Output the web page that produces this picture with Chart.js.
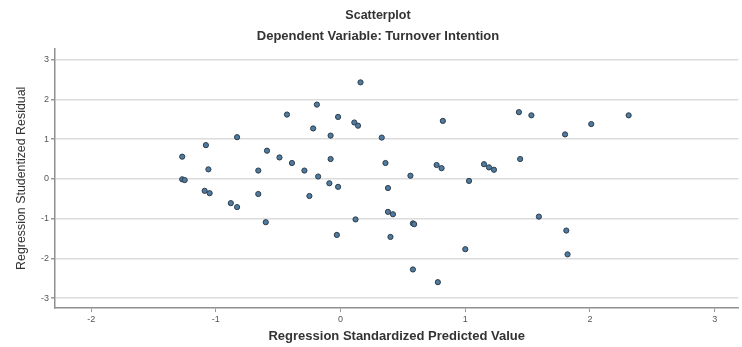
<!DOCTYPE html>
<html>
<head>
<meta charset="utf-8">
<script src="https://cdn.jsdelivr.net/npm/chart.js@4/dist/chart.umd.min.js"></script>
<style>
  html, body { margin: 0; padding: 0; background: #fff; }
  #wrap { width: 742px; height: 347px; }
</style>
</head>
<body>
<div id="wrap"><canvas id="chart"></canvas></div>
<script>
// Regression residual scatterplot (SPSS style)

// x: Regression Standardized Predicted Value
const PREDICTED = [
  -0.43, -0.83, -1.08, -1.27, -0.59, -0.49, -0.39, -1.06, -0.66, -1.27,
  -1.25, -1.09, -1.05, -0.66, -0.88, -0.83, -0.60, 0.16, -0.19, -0.02,
  -0.22, 0.11, 0.14, -0.08, 0.33, 0.82, -0.08, -0.29, 0.36, 0.77,
  0.81, 1.15, 1.19, 1.23, -0.18, 0.56, -0.09, -0.02, 1.03, 0.38,
  -0.25, 0.38, 0.42, 0.12, 0.58, 0.59, -0.03, 0.40, 1.00, 0.58,
  0.78, 1.43, 1.53, 2.01, 2.31, 1.80, 1.44, 1.59, 1.81, 1.82
];

// y: Regression Studentized Residual
const RESIDUAL = [
  1.62, 1.05, 0.85, 0.56, 0.71, 0.54, 0.40, 0.24, 0.21, -0.01,
  -0.03, -0.30, -0.36, -0.38, -0.61, -0.71, -1.09, 2.43, 1.87, 1.56,
  1.27, 1.42, 1.34, 1.09, 1.04, 1.46, 0.50, 0.21, 0.40, 0.35,
  0.27, 0.37, 0.29, 0.23, 0.06, 0.08, -0.11, -0.20, -0.05, -0.23,
  -0.43, -0.83, -0.89, -1.02, -1.12, -1.14, -1.41, -1.46, -1.77, -2.28,
  -2.60, 1.68, 1.60, 1.38, 1.60, 1.12, 0.50, -0.95, -1.30, -1.90
];

const X_TICKS = [-2, -1, 0, 1, 2, 3];
const Y_TICKS = [-3, -2, -1, 0, 1, 2, 3];

const FONT = "'Liberation Sans', Arial, sans-serif";

// pair the two arrays into {x, y} points for Chart.js
const points = PREDICTED.map((x, i) => ({ x, y: RESIDUAL[i] }));

new Chart(document.getElementById("chart"), {
  type: "scatter",
  data: {
    datasets: [{
      data: points,
      pointRadius: 2.6,
      pointHoverRadius: 2.6,
      backgroundColor: "#4f7ba0",
      borderColor: "#2e3d4c",
      borderWidth: 1,
    }],
  },
  options: {
    responsive: true,
    maintainAspectRatio: false,
    animation: false,
    layout: { padding: { left: 14, right: 0, top: 0, bottom: 0 } },
    plugins: {
      legend: { display: false },
      tooltip: { enabled: false },
      title: {
        display: true,
        text: "Scatterplot",
        color: "#333",
        font: { family: FONT, size: 12.5, weight: "bold" },
        padding: { top: 8, bottom: 3 },
      },
      subtitle: {
        display: true,
        text: "Dependent Variable: Turnover Intention",
        color: "#333",
        font: { family: FONT, size: 13, weight: "bold" },
        padding: { top: 3, bottom: 4 },
      },
    },
    scales: {
      x: {
        type: "linear",
        min: -2.29,
        max: 3.19,
        afterBuildTicks: s => { s.ticks = X_TICKS.map(v => ({ value: v })); },
        afterFit: s => { s.height = 39; },
        grid: { drawOnChartArea: false, drawTicks: true, tickLength: 4, color: "#999" },
        border: { color: "#8f8f8f", width: 1.5 },
        ticks: { color: "#555", font: { family: FONT, size: 9 }, padding: 2, maxRotation: 0 },
        title: {
          display: true,
          text: "Regression Standardized Predicted Value",
          color: "#333",
          font: { family: FONT, size: 13, weight: "bold" },
          padding: { top: 0, bottom: 3 },
        },
      },
      y: {
        type: "linear",
        min: -3.25,
        max: 3.28,
        afterBuildTicks: s => { s.ticks = Y_TICKS.map(v => ({ value: v })); },
        afterFit: s => { s.width = 41; },
        grid: { color: "#dcdcdc", lineWidth: 1.5, drawTicks: true, tickLength: 4, tickColor: "#999" },
        border: { color: "#8f8f8f", width: 1.5 },
        ticks: { color: "#555", font: { family: FONT, size: 9 }, padding: 2 },
        title: {
          display: true,
          text: "Regression Studentized Residual",
          color: "#333",
          font: { family: FONT, size: 12.4 },
          padding: 0,
        },
      },
    },
  },
});
</script>
</body>
</html>
